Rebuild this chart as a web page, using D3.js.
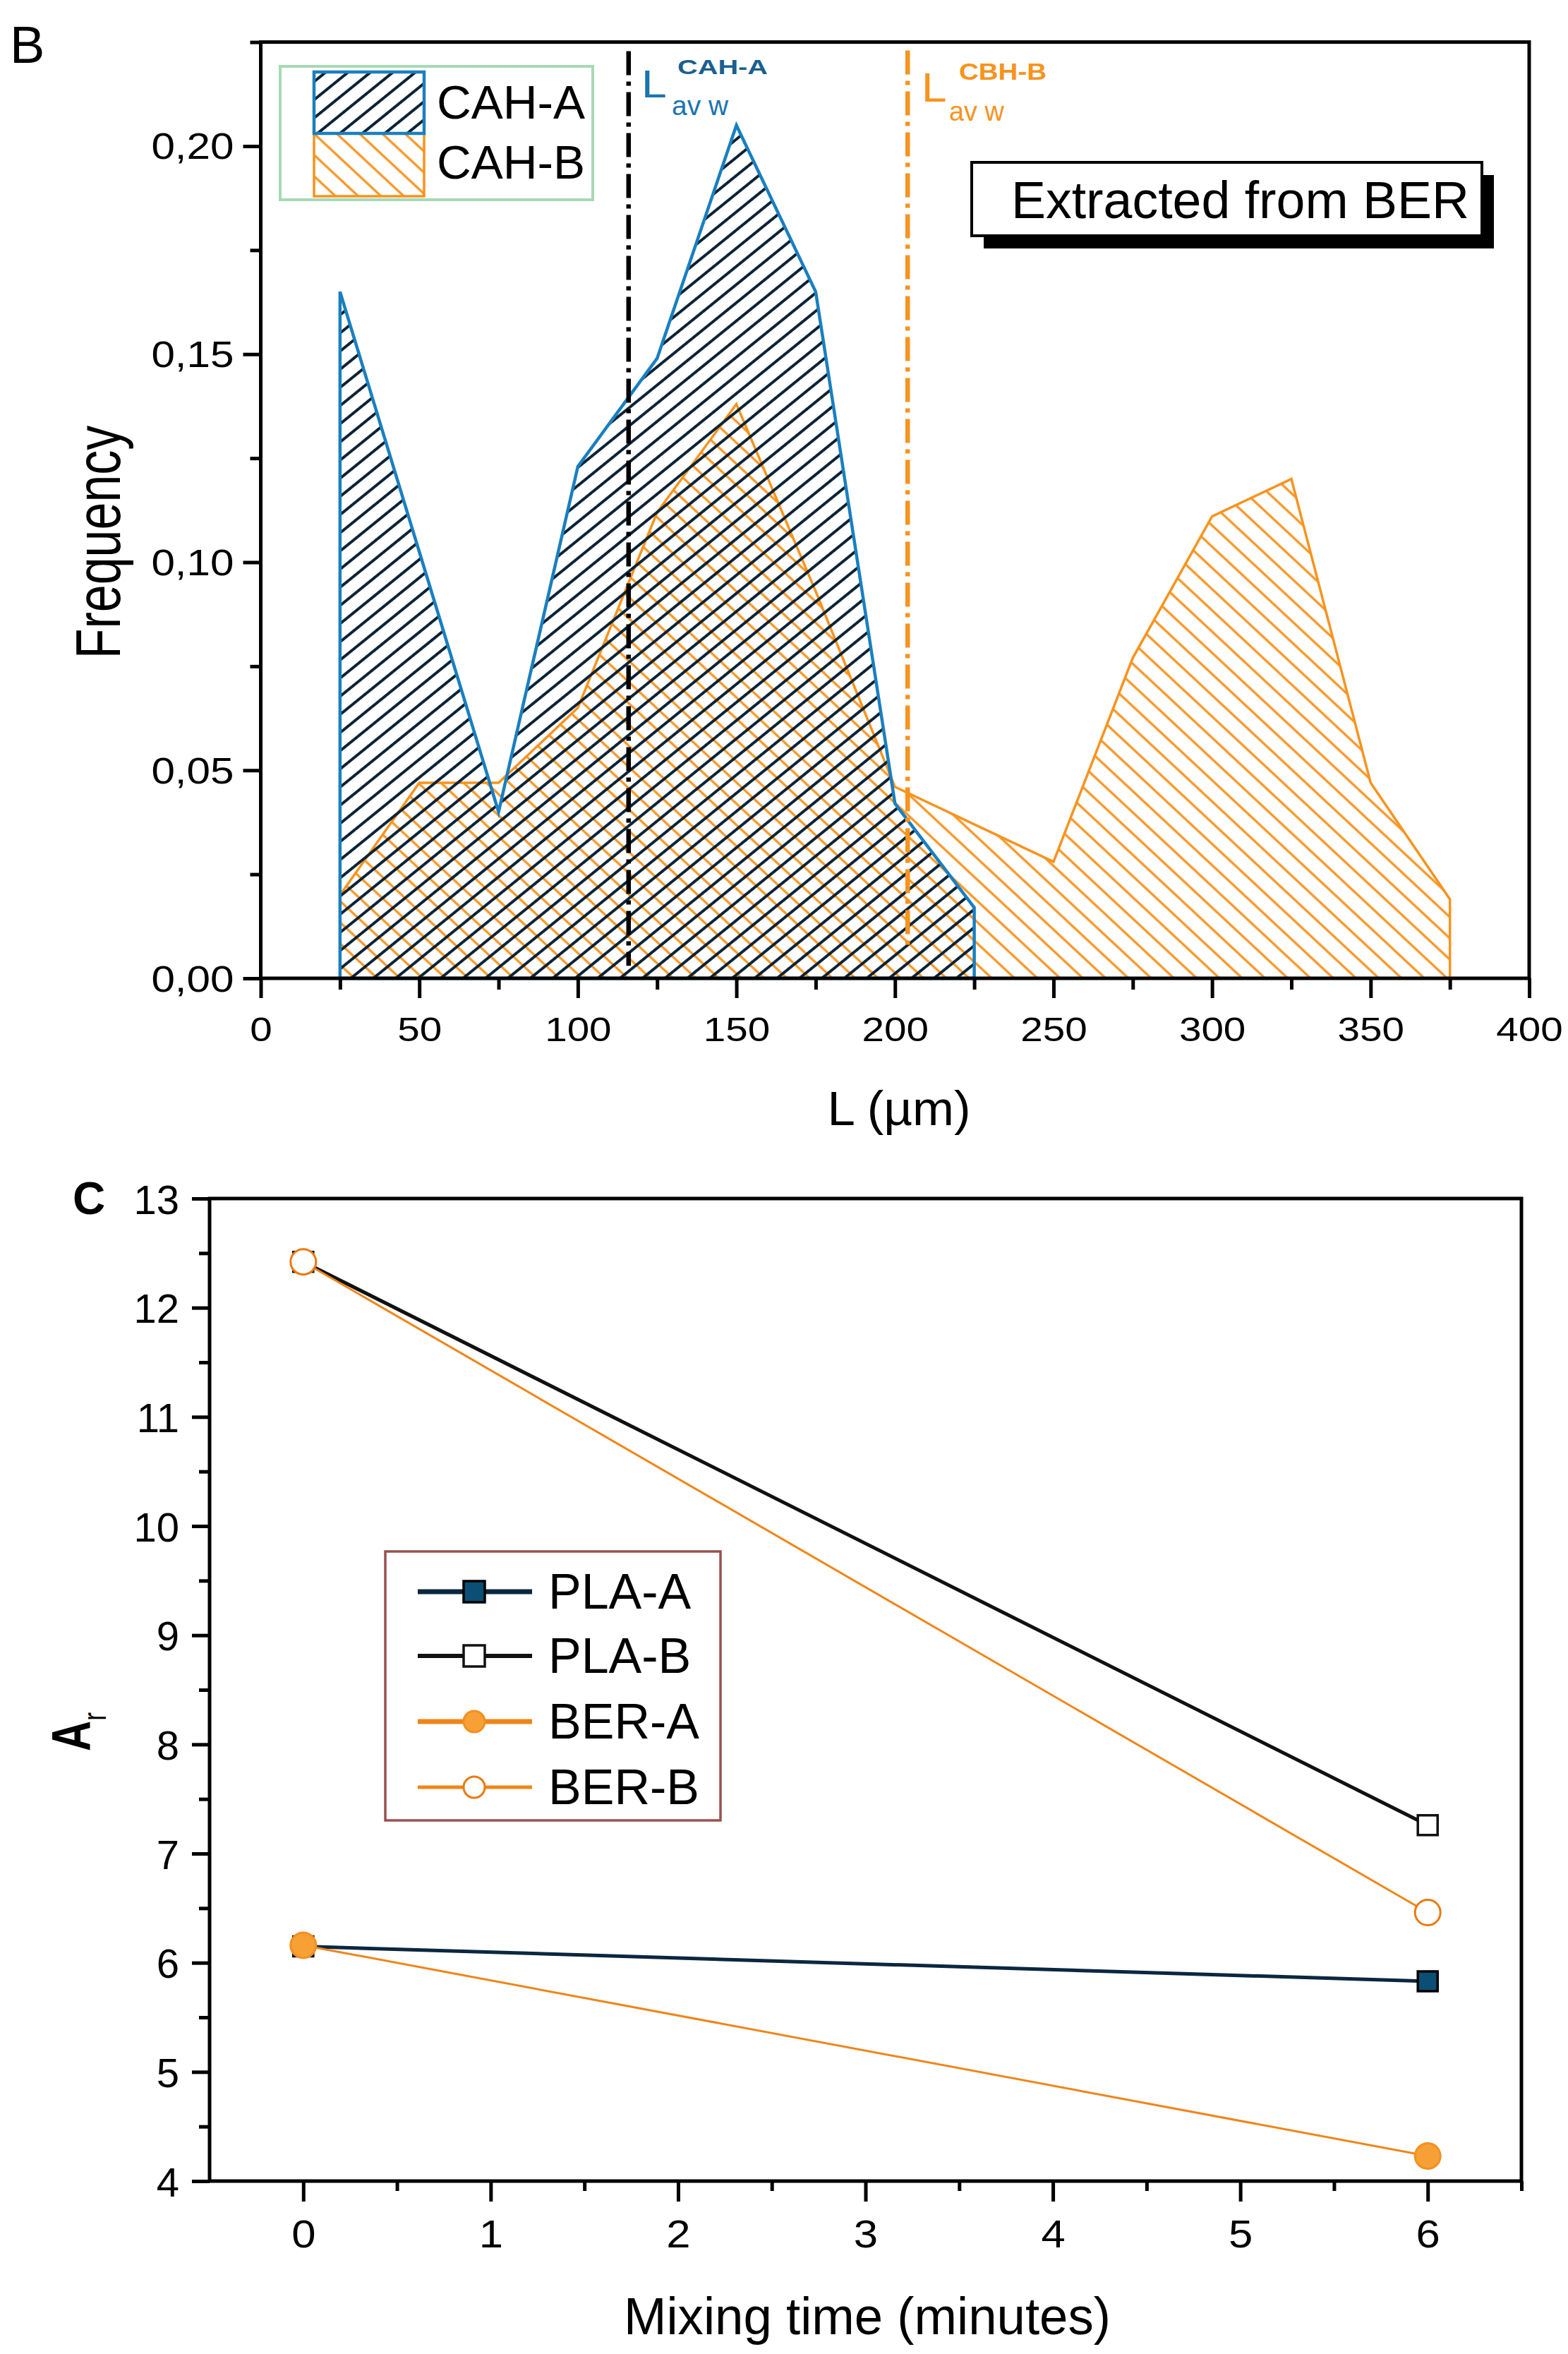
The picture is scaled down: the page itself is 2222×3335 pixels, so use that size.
<!DOCTYPE html>
<html>
<head>
<meta charset="utf-8">
<script src="https://cdn.jsdelivr.net/npm/d3@7"></script>
<style>
  body { margin: 0; background: #fff; }
  svg { display: block; }
  text { font-family: "Liberation Sans", Arial, sans-serif; }
</style>
</head>
<body>
<svg id="chart" width="2222" height="3335"></svg>
<script>
// ---- panel B: length distributions ----
const binsA = [25, 50, 75, 100, 125, 150, 175, 200, 225];
const freqA = [0.165, 0.1025, 0.040, 0.123, 0.149, 0.205, 0.165, 0.042, 0.017];
const binsB = [25, 50, 75, 100, 125, 150, 175, 200, 225, 250, 275, 300, 325, 350, 375];
const freqB = [0.020, 0.047, 0.047, 0.065, 0.112, 0.138, 0.093, 0.046, 0.037, 0.028, 0.077, 0.111, 0.120, 0.047, 0.019];
const lavA = 116;
const lavB = 204;
const lengthTicks = [0, 50, 100, 150, 200, 250, 300, 350, 400];
const lengthLabels = ["0", "50", "100", "150", "200", "250", "300", "350", "400"];
const lengthMinor = [25, 75, 125, 175, 225, 275, 325, 375];
const freqTicks = [0, 0.05, 0.10, 0.15, 0.20];
const freqLabels = ["0,00", "0,05", "0,10", "0,15", "0,20"];
const freqMinor = [0.025, 0.075, 0.125, 0.175, 0.225];

// ---- panel C: A_r vs mixing time ----
const mixTimes = [0, 6];
const plaA = [6.15, 5.83];
const plaB = [12.42, 7.26];
const berA = [6.16, 4.23];
const berB = [12.42, 6.46];
const timeTicks = [0, 1, 2, 3, 4, 5, 6];
const timeLabels = ["0", "1", "2", "3", "4", "5", "6"];
const timeMinor = [0.5, 1.5, 2.5, 3.5, 4.5, 5.5, 6.5];
const arTicks = [4, 5, 6, 7, 8, 9, 10, 11, 12, 13];
const arLabels = ["4", "5", "6", "7", "8", "9", "10", "11", "12", "13"];
const arMinor = [4.5, 5.5, 6.5, 7.5, 8.5, 9.5, 10.5, 11.5, 12.5];

const BLUE = "#1a7fbf", NAVY = "#0c2336", ORANGE = "#f7931e";

const svg = d3.select("#chart");
svg.append("rect").attr("width", 2222).attr("height", 3335).attr("fill", "#fff");
const defs = svg.append("defs");

function hatch(id, angle, spacing, color, width) {
  const p = defs.append("pattern")
    .attr("id", id)
    .attr("patternUnits", "userSpaceOnUse")
    .attr("width", spacing).attr("height", spacing)
    .attr("patternTransform", `rotate(${angle})`);
  p.append("line")
    .attr("x1", spacing / 2).attr("y1", -2)
    .attr("x2", spacing / 2).attr("y2", spacing + 2)
    .attr("stroke", color).attr("stroke-width", width);
}
hatch("hatchA", 51, 20, NAVY, 4);
hatch("hatchB", -47, 22, ORANGE, 3.2);

function label(g, o) {
  const t = g.append("text")
    .attr("transform", `translate(${o.x},${o.y}) scale(${o.sx || 1},${o.sy || 1})${o.rotate ? ` rotate(${o.rotate})` : ""}`)
    .attr("text-anchor", o.anchor || "start")
    .attr("font-size", o.size)
    .attr("font-weight", o.weight || "normal")
    .attr("fill", o.fill || "#000")
    .text(o.text);
  if (o.len) t.attr("textLength", o.len).attr("lengthAdjust", "spacingAndGlyphs");
  return t;
}

function styleAxis(g) {
  g.attr("font-size", null).attr("font-family", null);
  g.select(".domain").remove();
  g.selectAll(".tick line").attr("stroke", "#000").attr("stroke-width", 5);
}

// ================= PANEL B =================
const xB = d3.scaleLinear().domain([0, 400]).range([369.5, 2167]);
const yB = d3.scaleLinear().domain([0, 0.225]).range([1386, 59.6]);
const gB = svg.append("g");

const areaB = d3.area()
  .x(d => xB(d[0]))
  .y0(yB(0))
  .y1(d => yB(d[1]));

gB.append("path")
  .datum(d3.zip(binsB, freqB))
  .attr("d", areaB)
  .attr("fill", "url(#hatchB)")
  .attr("stroke", ORANGE).attr("stroke-width", 3.5);

gB.append("path")
  .datum(d3.zip(binsA, freqA))
  .attr("d", areaB)
  .attr("fill", "url(#hatchA)")
  .attr("stroke", BLUE).attr("stroke-width", 4.5);

// weighted average length markers
gB.append("line")
  .attr("x1", xB(lavA)).attr("x2", xB(lavA))
  .attr("y1", yB(0.2228)).attr("y2", yB(0.003))
  .attr("stroke", "#000").attr("stroke-width", 6.5)
  .attr("stroke-dasharray", "34,9,6,9");
gB.append("line")
  .attr("x1", xB(lavB)).attr("x2", xB(lavB))
  .attr("y1", yB(0.2230)).attr("y2", yB(0.0074))
  .attr("stroke", ORANGE).attr("stroke-width", 6.5)
  .attr("stroke-dasharray", "34,9,6,9");

label(gB, { x: 909, y: 138, text: "L", size: 56, sx: 1.15, fill: "#1a74b0" });
label(gB, { x: 952, y: 163, text: "av w", size: 38, len: 80, fill: "#1a74b0" });
label(gB, { x: 960, y: 105, text: "CAH-A", size: 30, weight: "bold", len: 128, fill: "#1a5f90" });
label(gB, { x: 1306, y: 144, text: "L", size: 58, sx: 1.1, fill: ORANGE });
label(gB, { x: 1345, y: 171, text: "av w", size: 38, len: 78, fill: ORANGE });
label(gB, { x: 1359, y: 113, text: "CBH-B", size: 33, weight: "bold", len: 124, fill: ORANGE });

// frame + axes
gB.append("rect")
  .attr("x", xB(0)).attr("y", yB(0.225))
  .attr("width", xB(400) - xB(0)).attr("height", yB(0) - yB(0.225))
  .attr("fill", "none").attr("stroke", "#000").attr("stroke-width", 5);

const gxB = gB.append("g").attr("transform", `translate(0,${yB(0)})`)
  .call(d3.axisBottom(xB).tickValues(lengthTicks).tickSize(28).tickSizeOuter(0)
    .tickFormat((d, i) => lengthLabels[i]));
styleAxis(gxB);
gxB.selectAll(".tick text")
  .attr("y", 89).attr("dy", null)
  .attr("font-size", 48).attr("fill", "#000")
  .attr("transform", "scale(1.18,1)");
const gxBm = gB.append("g").attr("transform", `translate(0,${yB(0)})`)
  .call(d3.axisBottom(xB).tickValues(lengthMinor).tickSize(16).tickSizeOuter(0).tickFormat(""));
styleAxis(gxBm);

const gyB = gB.append("g").attr("transform", `translate(${xB(0)},0)`)
  .call(d3.axisLeft(yB).tickValues(freqTicks).tickSize(25).tickSizeOuter(0)
    .tickFormat((d, i) => freqLabels[i]));
styleAxis(gyB);
gyB.selectAll(".tick text")
  .attr("x", -38 / 1.18).attr("dy", 18)
  .attr("font-size", 51).attr("fill", "#000")
  .attr("transform", "scale(1.18,1)");
const gyBm = gB.append("g").attr("transform", `translate(${xB(0)},0)`)
  .call(d3.axisLeft(yB).tickValues(freqMinor).tickSize(15).tickSizeOuter(0).tickFormat(""));
styleAxis(gyBm);

label(gB, { x: 1274, y: 1594, text: "L (µm)", size: 68, anchor: "middle", sx: 1.04 });
label(gB, { x: 170, y: 768, text: "Frequency", size: 70, anchor: "middle", sx: 1.26, rotate: -90 });
label(gB, { x: 14, y: 89, text: "B", size: 74 });

// legend B
const legB = gB.append("g");
legB.append("rect").attr("x", 397).attr("y", 94).attr("width", 443).attr("height", 189)
  .attr("fill", "#fff").attr("stroke", "#a6d9b5").attr("stroke-width", 4);
legB.append("rect").attr("x", 445).attr("y", 189).attr("width", 156).attr("height", 89)
  .attr("fill", "url(#hatchB)").attr("stroke", ORANGE).attr("stroke-width", 3.5);
legB.append("rect").attr("x", 445).attr("y", 102).attr("width", 156).attr("height", 87)
  .attr("fill", "url(#hatchA)").attr("stroke", BLUE).attr("stroke-width", 4.5);
label(legB, { x: 619, y: 168, text: "CAH-A", size: 67, len: 210 });
label(legB, { x: 619, y: 253, text: "CAH-B", size: 67, len: 210 });

// annotation box
const note = gB.append("g");
note.append("rect").attr("x", 1394).attr("y", 248).attr("width", 723).attr("height", 104).attr("fill", "#000");
note.append("rect").attr("x", 1377).attr("y", 230).attr("width", 723).attr("height", 104)
  .attr("fill", "#fff").attr("stroke", "#000").attr("stroke-width", 4);
label(note, { x: 1433, y: 309, text: "Extracted from BER", size: 75, len: 649 });

// ================= PANEL C =================
const xC = d3.scaleLinear().domain([-0.5, 6.5]).range([297, 2156]);
const yC = d3.scaleLinear().domain([4, 13]).range([3090, 1698]);
const gC = svg.append("g");

const series = [
  { name: "PLA-A", values: plaA, line: "#0b2740", width: 5, legWidth: 7, shape: "square", fill: "#0b4f75", stroke: "#000" },
  { name: "PLA-B", values: plaB, line: "#111", width: 5, legWidth: 6, shape: "square", fill: "#fff", stroke: "#111" },
  { name: "BER-A", values: berA, line: "#f08519", width: 3, legWidth: 7, shape: "circle", fill: "#f7a035", stroke: "#f39020" },
  { name: "BER-B", values: berB, line: "#f08519", width: 3, legWidth: 5, shape: "circle", fill: "#fff", stroke: "#ea7a12" }
];

const lineC = d3.line().x(d => xC(d[0])).y(d => yC(d[1]));

function marker(g, shape, cx, cy, fill, stroke, size) {
  if (shape === "square") {
    g.append("rect").attr("x", cx - size / 2).attr("y", cy - size / 2)
      .attr("width", size).attr("height", size)
      .attr("fill", fill).attr("stroke", stroke).attr("stroke-width", 3.5);
  } else {
    g.append("circle").attr("cx", cx).attr("cy", cy).attr("r", size / 2)
      .attr("fill", fill).attr("stroke", stroke).attr("stroke-width", 3);
  }
}

series.forEach(s => {
  gC.append("path")
    .datum(d3.zip(mixTimes, s.values))
    .attr("d", lineC)
    .attr("fill", "none").attr("stroke", s.line).attr("stroke-width", s.width);
});
series.forEach(s => {
  mixTimes.forEach((t, i) => {
    marker(gC, s.shape, xC(t), yC(s.values[i]), s.fill, s.stroke, s.shape === "square" ? 28 : 36);
  });
});

gC.append("rect")
  .attr("x", xC(-0.5)).attr("y", yC(13))
  .attr("width", xC(6.5) - xC(-0.5)).attr("height", yC(4) - yC(13))
  .attr("fill", "none").attr("stroke", "#000").attr("stroke-width", 5);

const gxC = gC.append("g").attr("transform", `translate(0,${yC(4)})`)
  .call(d3.axisBottom(xC).tickValues(timeTicks).tickSize(29).tickSizeOuter(0)
    .tickFormat((d, i) => timeLabels[i]));
styleAxis(gxC);
gxC.selectAll(".tick text")
  .attr("y", 94).attr("dy", null)
  .attr("font-size", 56).attr("fill", "#000")
  .attr("transform", "scale(1.1,1)");
const gxCm = gC.append("g").attr("transform", `translate(0,${yC(4)})`)
  .call(d3.axisBottom(xC).tickValues(timeMinor).tickSize(14).tickSizeOuter(0).tickFormat(""));
styleAxis(gxCm);

const gyC = gC.append("g").attr("transform", `translate(${xC(-0.5)},0)`)
  .call(d3.axisLeft(yC).tickValues(arTicks).tickSize(25).tickSizeOuter(0)
    .tickFormat((d, i) => arLabels[i]));
styleAxis(gyC);
gyC.selectAll(".tick text")
  .attr("x", -43).attr("dy", 21)
  .attr("font-size", 58).attr("fill", "#000");
const gyCm = gC.append("g").attr("transform", `translate(${xC(-0.5)},0)`)
  .call(d3.axisLeft(yC).tickValues(arMinor).tickSize(15).tickSizeOuter(0).tickFormat(""));
styleAxis(gyCm);

label(gC, { x: 1229, y: 3307, text: "Mixing time (minutes)", size: 75, anchor: "middle", len: 690 });
const arLabel = gC.append("text")
  .attr("transform", "translate(128,2481) scale(1.15,0.88) rotate(-90)")
  .attr("fill", "#000");
arLabel.append("tspan").attr("font-size", 68).attr("font-weight", "bold").text("A");
arLabel.append("tspan").attr("font-size", 40).attr("dy", 19).text("r");
label(gC, { x: 103, y: 1720, text: "C", size: 64, weight: "bold" });

// legend C
const legC = gC.append("g");
legC.append("rect").attr("x", 546).attr("y", 2198).attr("width", 475).attr("height", 381)
  .attr("fill", "#fff").attr("stroke", "#9a5050").attr("stroke-width", 3.5);
const legRows = [2255, 2346, 2439, 2532];
series.forEach((s, i) => {
  const cy = legRows[i];
  legC.append("line").attr("x1", 592).attr("x2", 754).attr("y1", cy).attr("y2", cy)
    .attr("stroke", s.line).attr("stroke-width", s.legWidth);
  marker(legC, s.shape, 672, cy, s.fill, s.stroke, 30);
  label(legC, { x: 777, y: cy + 24, text: s.name, size: 70 });
});
</script>
</body>
</html>
